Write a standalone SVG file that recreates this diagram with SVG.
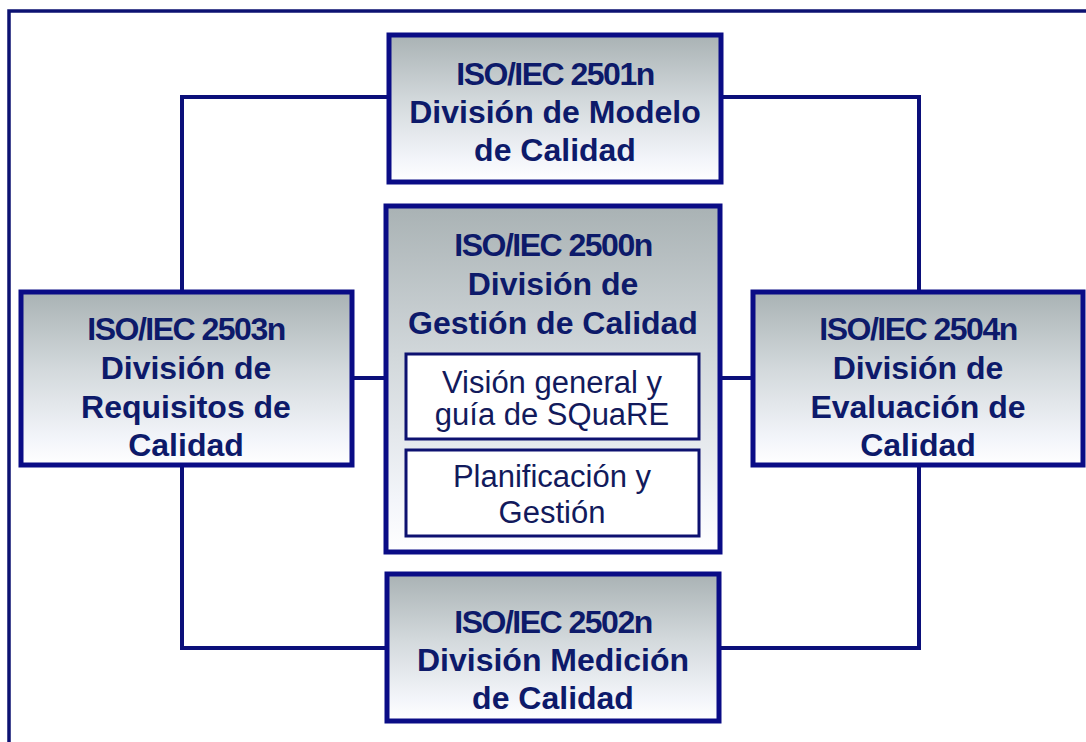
<svg xmlns="http://www.w3.org/2000/svg" width="1086" height="742" viewBox="0 0 1086 742">
  <defs>
    <linearGradient id="boxFill" x1="0" y1="0" x2="0" y2="1">
      <stop offset="0" stop-color="#a9b2b4"/>
      <stop offset="0.45" stop-color="#d3d9dc"/>
      <stop offset="0.85" stop-color="#f3f5fa"/>
      <stop offset="1" stop-color="#ffffff"/>
    </linearGradient>
    <style>
      .frame { fill: none; stroke: #0c1272; stroke-width: 3.5; }
      .wire { fill: none; stroke: #0b0f7a; stroke-width: 4; }
      .box { fill: url(#boxFill); stroke: #0a0c86; stroke-width: 5; }
      .sub { fill: #ffffff; stroke: #0d1170; stroke-width: 3; }
      .title { font-family: "Liberation Sans", Arial, sans-serif; font-weight: bold; font-size: 32px; fill: #0d1a6a; text-anchor: middle; }
      .code { letter-spacing: -1.5px; }
      .plain { font-family: "Liberation Sans", Arial, sans-serif; font-size: 31px; fill: #121a5c; text-anchor: middle; }
    </style>
  </defs>

  <rect width="1086" height="742" fill="#ffffff"/>

  <!-- outer frame -->
  <path class="frame" d="M9,742 V11 H1086"/>

  <!-- connectors -->
  <g id="connectors">
    <path class="wire" d="M389,97 H182 V292"/>
    <path class="wire" d="M721,97 H919 V292"/>
    <path class="wire" d="M352,378 H386"/>
    <path class="wire" d="M720,378 H753"/>
    <path class="wire" d="M182,465 V648 H387"/>
    <path class="wire" d="M919,465 V648 H719"/>
  </g>

  <!-- 2501n -->
  <g id="node-2501n">
    <rect class="box" x="389" y="35" width="332" height="147"/>
    <text class="title code" x="555" y="85">ISO/IEC 2501n</text>
    <text class="title" x="555" y="123">División de Modelo</text>
    <text class="title" x="555" y="161">de Calidad</text>
  </g>

  <!-- 2500n -->
  <g id="node-2500n">
    <rect class="box" x="386" y="206" width="334" height="346"/>
    <text class="title code" x="553" y="256">ISO/IEC 2500n</text>
    <text class="title" x="553" y="295">División de</text>
    <text class="title" x="553" y="334">Gestión de Calidad</text>
    <g id="node-vision">
      <rect class="sub" x="406" y="354" width="293" height="85"/>
      <text class="plain" x="552" y="393">Visión general y</text>
      <text class="plain" x="552" y="425">guía de SQuaRE</text>
    </g>
    <g id="node-planificacion">
      <rect class="sub" x="406" y="450" width="293" height="86"/>
      <text class="plain" x="552" y="487">Planificación y</text>
      <text class="plain" x="552" y="523">Gestión</text>
    </g>
  </g>

  <!-- 2503n -->
  <g id="node-2503n">
    <rect class="box" x="21" y="292" width="331" height="173"/>
    <text class="title code" x="186" y="340">ISO/IEC 2503n</text>
    <text class="title" x="186" y="379">División de</text>
    <text class="title" x="186" y="418">Requisitos de</text>
    <text class="title" x="186" y="456">Calidad</text>
  </g>

  <!-- 2504n -->
  <g id="node-2504n">
    <rect class="box" x="753" y="292" width="330" height="173"/>
    <text class="title code" x="918" y="340">ISO/IEC 2504n</text>
    <text class="title" x="918" y="379">División de</text>
    <text class="title" x="918" y="418">Evaluación de</text>
    <text class="title" x="918" y="456">Calidad</text>
  </g>

  <!-- 2502n -->
  <g id="node-2502n">
    <rect class="box" x="387" y="574" width="332" height="147"/>
    <text class="title code" x="553" y="633">ISO/IEC 2502n</text>
    <text class="title" x="553" y="671">División Medición</text>
    <text class="title" x="553" y="709">de Calidad</text>
  </g>
</svg>
